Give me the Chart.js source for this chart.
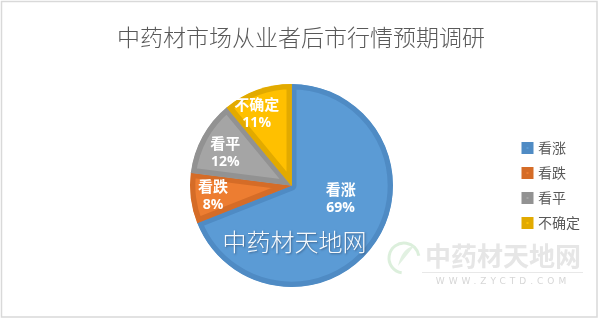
<!DOCTYPE html>
<html>
<head>
<meta charset="utf-8">
<script src="https://cdn.jsdelivr.net/npm/chart.js@4.4.1/dist/chart.umd.min.js"></script>
<style>
  html, body { margin: 0; padding: 0; background: #ffffff; }
  #wrap { width: 600px; height: 320px; }
</style>
</head>
<body>
<div id="wrap"><canvas id="c" width="600" height="320"></canvas></div>
<script>
// Survey: how herb-market traders see the market ahead
const chartTitle = '中药材市场从业者后市行情预期调研';
const categories = ['看涨', '看跌', '看平', '不确定'];
const shares = [69, 8, 12, 11];
const fillColors = ['#5b9bd5', '#ed7d31', '#a5a5a5', '#ffc000'];
const edgeColors = ['#4f8bc4', '#d56c27', '#929292', '#e2aa00'];

const CJK = '"Noto Sans CJK SC", "Noto Sans", sans-serif';

// white page, thin grey frame, and the heading centred on the page
const pagePlugin = {
  id: 'page',
  beforeDraw(chart) {
    const ctx = chart.ctx;
    ctx.save();
    ctx.fillStyle = '#ffffff';
    ctx.fillRect(0, 0, chart.width, chart.height);
    ctx.restore();
  },
  afterDraw(chart, args, opts) {
    const ctx = chart.ctx;
    ctx.save();
    ctx.strokeStyle = '#d9d9d9';
    ctx.lineWidth = 1.5;
    ctx.strokeRect(1.5, 1.5, chart.width - 4.5, chart.height - 4.5);
    ctx.fillStyle = '#595959';
    ctx.font = '300 23px ' + CJK;
    ctx.textAlign = 'center';
    ctx.textBaseline = 'middle';
    ctx.fillText(opts.heading, chart.width / 2 + 1, 37);
    ctx.restore();
  }
};

// category name + percentage written inside each slice
const sliceLabels = {
  id: 'sliceLabels',
  afterDatasetsDraw(chart, args, opts) {
    const ctx = chart.ctx;
    const meta = chart.getDatasetMeta(0);
    const total = shares.reduce((a, b) => a + b, 0);
    meta.data.forEach((arc, i) => {
      const p = arc.getProps(['x', 'y', 'startAngle', 'endAngle', 'outerRadius'], true);
      const [along, radial] = opts.place[i];
      const a = p.startAngle + (p.endAngle - p.startAngle) * along;
      const r = p.outerRadius * radial;
      const cx = p.x + Math.cos(a) * r;
      const cy = p.y + Math.sin(a) * r;
      ctx.save();
      ctx.fillStyle = '#ffffff';
      ctx.textAlign = 'center';
      ctx.textBaseline = 'middle';
      ctx.font = 'bold 15px ' + CJK;
      ctx.fillText(categories[i], cx, cy - 9);
      ctx.font = 'bold 14px "Open Sans", "DejaVu Sans", sans-serif';
      ctx.fillText(Math.round(shares[i] / total * 100) + '%', cx, cy + 10);
      ctx.restore();
    });
  }
};

// site watermark on the pie and the site logo to the lower right
const siteMarks = {
  id: 'siteMarks',
  afterDraw(chart) {
    const ctx = chart.ctx;
    const arc = chart.getDatasetMeta(0).data[0];
    ctx.save();
    // watermark across the lower part of the pie
    ctx.font = '300 24px ' + CJK;
    ctx.textAlign = 'center';
    ctx.textBaseline = 'middle';
    ctx.shadowColor = 'rgba(40,60,90,0.6)';
    ctx.shadowBlur = 2;
    ctx.shadowOffsetX = 1;
    ctx.shadowOffsetY = 1;
    ctx.fillStyle = 'rgba(255,255,255,0.95)';
    ctx.fillText('中药材天地网', arc.x + 3, arc.y + 56);
    ctx.restore();

    // logo ring
    ctx.save();
    ctx.strokeStyle = '#dcefdc';
    ctx.lineWidth = 3;
    ctx.beginPath();
    ctx.arc(404, 258, 15, Math.PI * 0.55, Math.PI * 1.95);
    ctx.stroke();
    ctx.fillStyle = '#e2f1e2';
    ctx.beginPath();
    ctx.moveTo(398, 266);
    ctx.quadraticCurveTo(402, 248, 414, 246);
    ctx.quadraticCurveTo(408, 254, 398, 266);
    ctx.fill();
    // logo text
    ctx.font = 'bold 26px ' + CJK;
    ctx.textAlign = 'center';
    ctx.textBaseline = 'middle';
    ctx.fillStyle = '#e6e6e6';
    ctx.fillText('中药材天地网', 503, 256);
    ctx.strokeStyle = '#e8e8e8';
    ctx.lineWidth = 1;
    ctx.beginPath();
    ctx.moveTo(422, 272.5);
    ctx.lineTo(583, 272.5);
    ctx.stroke();
    ctx.font = '9px "DejaVu Sans", sans-serif';
    ctx.letterSpacing = '4px';
    ctx.fillStyle = '#d6d6d6';
    ctx.fillText('WWW.ZYCTD.COM', 503, 282);
    ctx.restore();
  }
};

new Chart(document.getElementById('c'), {
  type: 'pie',
  data: {
    labels: categories,
    datasets: [{
      data: shares,
      backgroundColor: fillColors,
      borderColor: edgeColors,
      borderWidth: 5,
      borderAlign: 'inner',
      hoverBorderWidth: 5
    }]
  },
  options: {
    responsive: false,
    animation: false,
    events: [],
    layout: { padding: { left: 70, right: 10, top: 84, bottom: 33 } },
    plugins: {
      title: { display: false },
      legend: {
        position: 'right',
        labels: {
          boxWidth: 7,
          boxHeight: 7,
          color: '#595959',
          font: { family: CJK, size: 14 },
          padding: 11
        }
      },
      tooltip: { enabled: false },
      page: { heading: chartTitle },
      sliceLabels: {
        place: [[0.42, 0.5], [0.5, 0.78], [0.45, 0.73], [0.35, 0.79]]
      }
    }
  },
  plugins: [pagePlugin, sliceLabels, siteMarks]
});
</script>
</body>
</html>
